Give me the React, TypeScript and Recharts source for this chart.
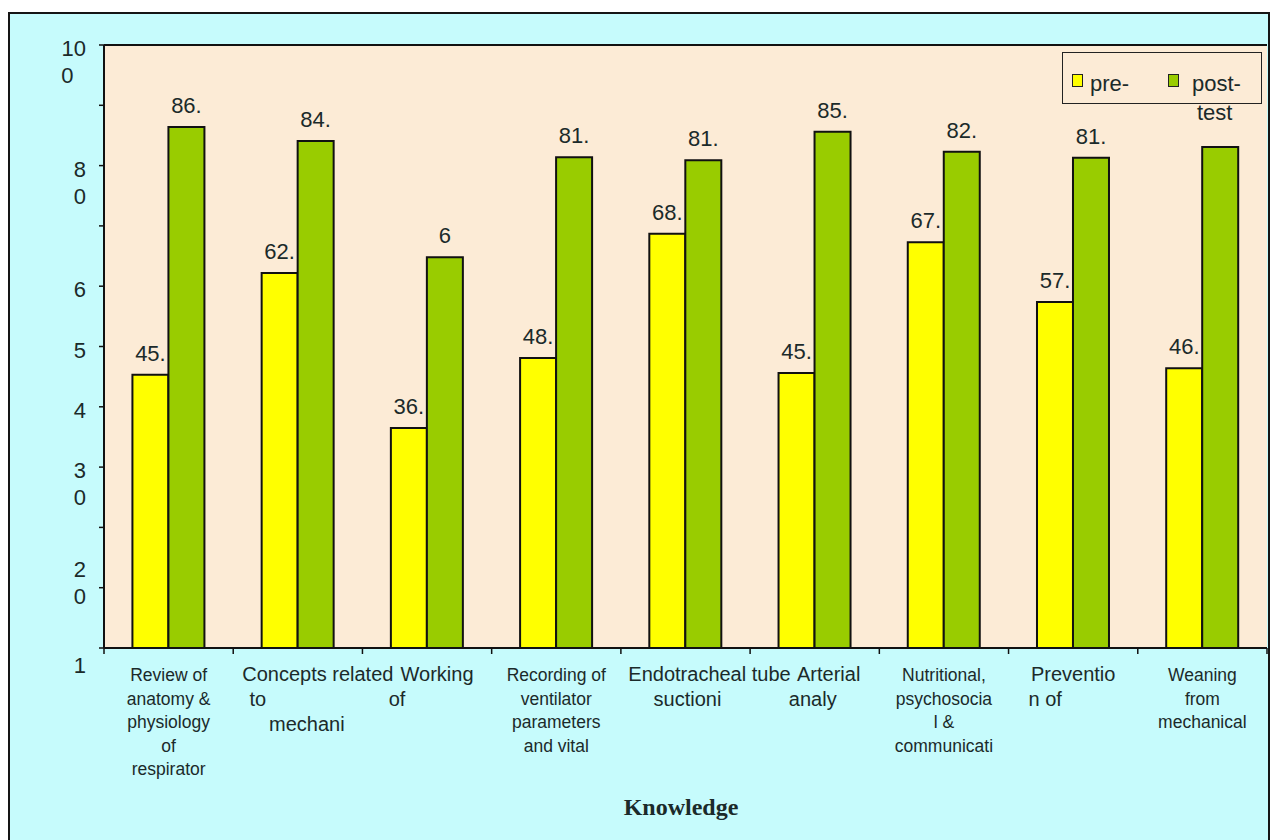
import React from 'react';
import { BarChart, Bar, XAxis, YAxis, CartesianGrid, LabelList, Legend, ReferenceLine } from 'recharts';

// categories as they show under the axis (the source labels are cut off)
const categories = [
  'Review of\nanatomy &\nphysiology\nof\nrespirator',
  'Concepts related\nto\nmechani',
  'Working\nof',
  'Recording of\nventilator\nparameters\nand vital',
  'Endotracheal tube\nsuctioni',
  'Arterial\nanaly',
  'Nutritional,\npsychosocia\nl &\ncommunicati',
  'Preventio\nn of',
  'Weaning\nfrom\nmechanical',
];

const preTest = [45.3, 62.2, 36.5, 48.1, 68.7, 45.6, 67.3, 57.4, 46.4];
const postTest = [86.4, 84.1, 64.8, 81.4, 80.9, 85.6, 82.3, 81.3, 83.1];

const preLabels = ['45.', '62.', '36.', '48.', '68.', '45.', '67.', '57.', '46.'];
const postLabels = ['86.', '84.', '6', '81.', '81.', '85.', '82.', '81.', ''];

const yTicks = [0, 10, 20, 30, 40, 50, 60, 70, 80, 90, 100];
const yTickText = ['1', '2\n0', '', '3\n0', '4', '5', '6', '', '8\n0', '', '10\n0'];

const data = categories.map((name, i) => ({
  name,
  pre: preTest[i],
  post: postTest[i],
  preLabel: preLabels[i],
  postLabel: postLabels[i],
}));

const TEXT = '#1b2a2a';
const SANS = "'Liberation Sans', Arial, sans-serif";

// label styling per category (some labels were set larger / shifted in the source)
const bigLabel = [false, true, true, false, true, true, false, true, false];
const lineShift: number[][] = [[], [20, -40, 9], [10, -30], [], [24, 2], [14, -2], [], [0, -28], []];
const yLineShift: Record<number, number> = { 10: -22, 0: 14 };

const XTick = (props: any) => {
  const { x, y, payload, index, visibleTicksCount, width } = props;
  const half = payload.offset || width / visibleTicksCount / 2;
  const lines = String(payload.value).split('\n');
  const big = bigLabel[index];
  const fs = big ? 20 : 17.5;
  const lh = big ? 25 : 23.5;
  const shifts = lineShift[index] || [];
  return (
    <g>
      <line x1={x - half} x2={x - half} y1={y} y2={y + 6} stroke="#111" strokeWidth={1.5} />
      {index === visibleTicksCount - 1 && (
        <line x1={x + half} x2={x + half} y1={y} y2={y + 6} stroke="#111" strokeWidth={1.5} />
      )}
      {lines.map((t, i) => (
        <text key={i} x={x + (shifts[i] || 0)} y={y + 33 + i * lh} textAnchor="middle"
          fontSize={fs} fontFamily={SANS} fill={TEXT}>{t}</text>
      ))}
    </g>
  );
};

const YTick = (props: any) => {
  const { x, y, payload } = props;
  const idx = yTicks.indexOf(payload.value);
  const text = idx >= 0 ? yTickText[idx] : '';
  if (!text) return <g />;
  const lines = text.split('\n');
  const endX = x - 13;
  const top = y + 11 + (yLineShift[payload.value] || 0);
  const digitW = 12.5;
  return (
    <g>
      {lines.map((t, i) => (
        <text key={i} x={i === 0 ? endX : endX - (lines[0].length - 1) * digitW} y={top + i * 27}
          textAnchor="end" fontSize={22} fontFamily={SANS} fill={TEXT}>{t}</text>
      ))}
    </g>
  );
};

const LegendBox = () => (
  <div style={{ position: 'relative', width: 200, height: 52, border: '1.5px solid #222', boxSizing: 'border-box', fontFamily: SANS, color: TEXT, fontSize: 22 }}>
    <div style={{ position: 'absolute', left: 9, top: 21, width: 9, height: 11, background: '#ffff00', border: '1.5px solid #222' }} />
    <div style={{ position: 'absolute', left: 27, top: 18, lineHeight: '26px' }}>pre-</div>
    <div style={{ position: 'absolute', left: 105, top: 21, width: 9, height: 11, background: '#99cc00', border: '1.5px solid #222' }} />
    <div style={{ position: 'absolute', left: 129, top: 18, lineHeight: '26px' }}>post-</div>
    <div style={{ position: 'absolute', left: 134, top: 47, lineHeight: '26px' }}>test</div>
  </div>
);

export default function App() {
  return (
    <div style={{ position: 'absolute', left: 0, top: 0, width: 1273, height: 840, background: '#fff', overflow: 'hidden' }}>
      <div style={{ position: 'absolute', left: 8, top: 12, width: 1262, height: 850, background: '#c6fbfc', border: '2px solid #151515', boxSizing: 'border-box' }} />
      <div style={{ position: 'absolute', left: 0, top: 0 }}>
        <BarChart width={1273} height={840} data={data}
          margin={{ top: 45, right: 6, left: 44, bottom: 52 }}
          barCategoryGap="22%" barGap={0}>
          <CartesianGrid horizontal={false} vertical={false} fill="#fcebd6" stroke="none" />
          <XAxis dataKey="name" interval={0} height={140} tickSize={0} tickMargin={0} tickLine={false}
            axisLine={{ stroke: '#111', strokeWidth: 2 }} tick={<XTick />} />
          <YAxis type="number" domain={[0, 100]} ticks={yTicks} interval={0} width={60}
            tickSize={5} tickMargin={0} axisLine={{ stroke: '#111', strokeWidth: 2 }}
            tickLine={{ stroke: '#111', strokeWidth: 1.5 }} tick={<YTick />} />
          <ReferenceLine y={100} stroke="#111" strokeWidth={2} />
          <Legend layout="horizontal" verticalAlign="middle" align="center" content={<LegendBox />}
            wrapperStyle={{ position: 'absolute', left: 1062, top: 52, width: 200, height: 52 }} />
          <Bar dataKey="pre" name="pre-" fill="#ffff00" stroke="#111" strokeWidth={2} isAnimationActive={false}>
            <LabelList dataKey="preLabel" position="top" offset={14} fontSize={22} fontFamily={SANS} fill={TEXT} />
          </Bar>
          <Bar dataKey="post" name="post-test" fill="#99cc00" stroke="#111" strokeWidth={2} isAnimationActive={false}>
            <LabelList dataKey="postLabel" position="top" offset={14} fontSize={22} fontFamily={SANS} fill={TEXT} />
          </Bar>
        </BarChart>
      </div>
      <div style={{ position: 'absolute', left: 560, top: 795, width: 242, textAlign: 'center', fontFamily: "'Liberation Serif', 'Times New Roman', serif", fontWeight: 'bold', fontSize: 24, lineHeight: '24px', color: TEXT }}>
        Knowledge
      </div>
    </div>
  );
}
